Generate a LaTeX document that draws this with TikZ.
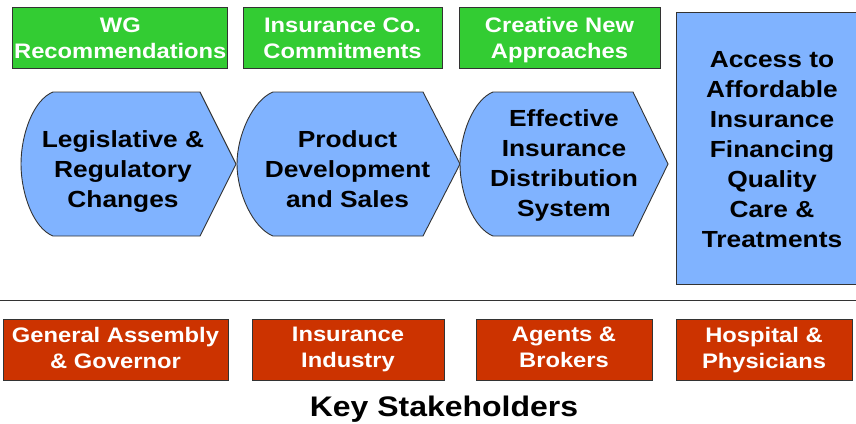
\documentclass[tikz,border=0pt]{standalone}
\usepackage{fontspec}
\newfontfamily\labelfont{Liberation Sans}[FakeStretch=1.13]
\definecolor{wggreen}{HTML}{33CC33}
\definecolor{flowblue}{HTML}{80B3FF}
\definecolor{stakered}{HTML}{CC3300}
\definecolor{edgegray}{HTML}{333333}

% Process step: convex left side, pointed right side.
% #1 leftmost x, #2 shoulder x, #3 start of point x, #4 tip x
\newcommand\flowchevron[4]{%
  \draw[chev] (#2,92) -- (#3,92) -- (#4,164) -- (#3,236) -- (#2,236)
    .. controls (#2-20,228) and (#1,193) .. (#1,164)
    .. controls (#1,135) and (#2-20,100) .. cycle;
}

\begin{document}
\begin{tikzpicture}[x=1pt,y=-1pt,
  outline/.style={draw=edgegray, line width=0.9pt},
  topbox/.style={outline, fill=wggreen, text=white, minimum height=61pt,
    inner sep=0pt, align=center, text depth=0pt,
    font=\labelfont\bfseries\fontsize{21}{26}\selectfont},
  stakebox/.style={outline, fill=stakered, text=white, minimum height=61pt,
    inner sep=0pt, align=center, text depth=5pt,
    font=\labelfont\bfseries\fontsize{21}{26}\selectfont},
  chev/.style={outline, fill=flowblue},
  steptext/.style={inner sep=0pt, align=center, text depth=0pt,
    font=\labelfont\bfseries\fontsize{23.3}{30}\selectfont},
  goalbox/.style={outline, fill=flowblue, inner sep=0pt, align=center,
    text depth=0pt, font=\labelfont\bfseries\fontsize{23.3}{30}\selectfont},
  heading/.style={inner sep=0pt, anchor=base,
    font=\labelfont\bfseries\fontsize{28.3}{34}\selectfont}]

\useasboundingbox (0,0) rectangle (856,423);
\clip (0,0) rectangle (856,423);

% inputs
\node[topbox, minimum width=215pt] (wg) at (120.3,37.8) {WG\\Recommendations};
\node[topbox, minimum width=199pt] (ins) at (342.5,37.8) {Insurance Co.\\Commitments};
\node[topbox, minimum width=201pt] (cna) at (559.5,37.8) {Creative New\\Approaches};

% process steps
\flowchevron{21}{53}{200}{236}
\flowchevron{237}{273}{423}{460}
\flowchevron{460}{493}{633}{668}
\node[steptext] (leg) at (123,169.3) {Legislative \&\\Regulatory\\Changes};
\node[steptext] (prod) at (347.5,169.3) {Product\\Development\\and Sales};
\node[steptext] (dist) at (564,162.9) {Effective\\Insurance\\Distribution\\System};

% outcome
\node[goalbox, minimum width=192pt, minimum height=272pt] (goal) at (772,148) {};
\node[steptext] (goaltext) at (772,149.5)
  {Access to\\Affordable\\Insurance\\Financing\\Quality\\Care \&\\Treatments};

% separator
\coordinate (sepL) at (0,300);
\coordinate (sepR) at (856,300);
\draw[edgegray, line width=0.9pt] (sepL) -- (sepR);

% stakeholders
\node[stakebox, minimum width=225pt] (ga) at (115.5,350) {General Assembly\\\& Governor};
\node[stakebox, minimum width=192pt] (ind) at (348,350) {Insurance\\Industry};
\node[stakebox, minimum width=176pt] (agt) at (564,350) {Agents \&\\Brokers};
\node[stakebox, minimum width=176pt] (hosp) at (764,350) {Hospital \&\\Physicians};

\node[heading] (key) at (444,416.7) {Key Stakeholders};
\end{tikzpicture}
\end{document}
